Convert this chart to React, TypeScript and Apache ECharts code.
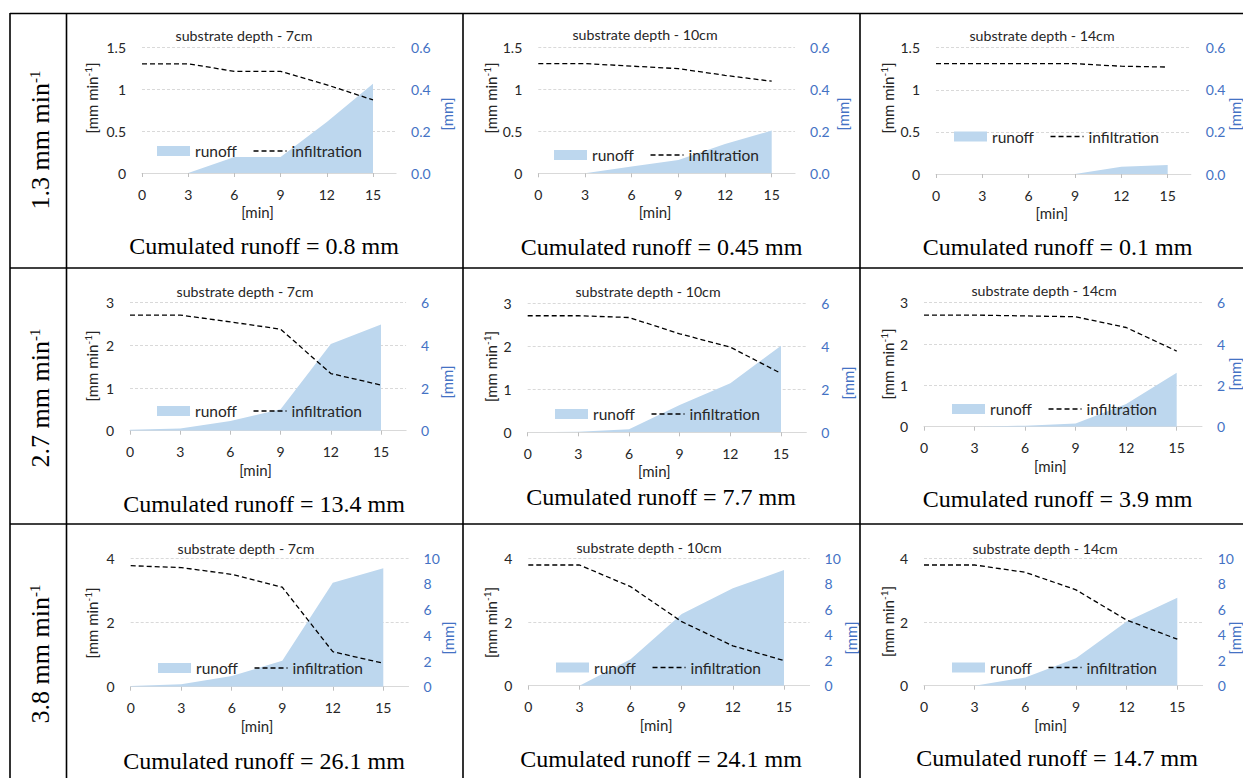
import React, { useEffect, useRef } from 'react';
import * as echarts from 'echarts';

// ---------------- data ----------------
const minutes = [0, 3, 6, 9, 12, 15];
const rainIntensityLabels = ['1.3', '2.7', '3.8'];
const substrateDepthLabels = ['7cm', '10cm', '14cm'];

// infiltration [mm min-1] (left axis), runoff [mm] (right axis)
const infiltration13mm7cm = [1.30, 1.30, 1.21, 1.21, 1.05, 0.87];
const runoff13mm7cm = [0, 0, 0.076, 0.076, 0.243, 0.425];
const infiltration13mm10cm = [1.31, 1.31, 1.28, 1.25, 1.17, 1.10];
const runoff13mm10cm = [0, 0, 0.032, 0.064, 0.14, 0.204];
const infiltration13mm14cm = [1.31, 1.31, 1.31, 1.31, 1.28, 1.27];
const runoff13mm14cm = [0, 0, 0, 0, 0.035, 0.043];

const infiltration27mm7cm = [2.71, 2.71, 2.55, 2.38, 1.34, 1.07];
const runoff27mm7cm = [0.05, 0.1, 0.45, 1.0, 4.06, 4.98];
const infiltration27mm10cm = [2.71, 2.71, 2.67, 2.29, 1.98, 1.37];
const runoff27mm10cm = [0, 0.02, 0.14, 1.27, 2.28, 4.03];
const infiltration27mm14cm = [2.70, 2.70, 2.68, 2.66, 2.40, 1.83];
const runoff27mm14cm = [0, 0, 0.05, 0.16, 1.1, 2.61];

const infiltration38mm7cm = [3.77, 3.71, 3.50, 3.10, 1.09, 0.73];
const runoff38mm7cm = [0.05, 0.2, 0.83, 2.03, 8.1, 9.22];
const infiltration38mm10cm = [3.79, 3.79, 3.11, 2.01, 1.25, 0.79];
const runoff38mm10cm = [0, 0, 2.07, 5.63, 7.64, 9.08];
const infiltration38mm14cm = [3.79, 3.79, 3.56, 3.01, 2.06, 1.46];
const runoff38mm14cm = [0, 0, 0.65, 2.15, 5.03, 6.91];

const cumulatedRunoff = ['0.8', '0.45', '0.1', '13.4', '7.7', '3.9', '26.1', '24.1', '14.7'];

const leftAxisMax = [1.5, 3, 4];
const leftAxisStep = [0.5, 1, 2];
const rightAxisMax = [0.6, 6, 10];
const rightAxisStep = [0.2, 2, 2];
const rightAxisDecimals = [1, 0, 0];

const infiltrationByPanel = [
  infiltration13mm7cm, infiltration13mm10cm, infiltration13mm14cm,
  infiltration27mm7cm, infiltration27mm10cm, infiltration27mm14cm,
  infiltration38mm7cm, infiltration38mm10cm, infiltration38mm14cm,
];
const runoffByPanel = [
  runoff13mm7cm, runoff13mm10cm, runoff13mm14cm,
  runoff27mm7cm, runoff27mm10cm, runoff27mm14cm,
  runoff38mm7cm, runoff38mm10cm, runoff38mm14cm,
];

// ---------------- layout (pixels) ----------------
const LAYOUT = [
  { x0: 142, x15: 373, top: 47, y0: 173, title: [244, 35], legend: [157, 152], nameL: [92, 98], nameR: [447, 114], caption: [264, 246] },
  { x0: 538.3, x15: 771.7, top: 47.7, y0: 173.3, title: [645, 34], legend: [554, 156], nameL: [491, 98], nameR: [843, 114], caption: [661.5, 247] },
  { x0: 936, x15: 1167.7, top: 47.7, y0: 174, title: [1042, 35], legend: [954, 137.5], nameL: [888, 98], nameR: [1235, 114], caption: [1057.5, 247] },
  { x0: 130, x15: 381, top: 302.7, y0: 430.7, title: [245, 291], legend: [157, 412], nameL: [92, 366], nameR: [447, 382], caption: [264, 504] },
  { x0: 527.7, x15: 781, top: 303.3, y0: 432.3, title: [648, 291], legend: [555, 415], nameL: [491, 366.5], nameR: [848, 383], caption: [661, 497] },
  { x0: 924, x15: 1176.7, top: 302.7, y0: 426.7, title: [1044, 290], legend: [952, 410], nameL: [888, 364], nameR: [1235, 374], caption: [1057.5, 499] },
  { x0: 130.7, x15: 383.3, top: 558.3, y0: 686.7, title: [246, 548], legend: [158, 669], nameL: [92, 623], nameR: [448, 638], caption: [264, 761] },
  { x0: 528.3, x15: 784, top: 558.3, y0: 685.7, title: [649, 547], legend: [556, 668.5], nameL: [491, 622.5], nameR: [851, 638], caption: [661, 759] },
  { x0: 924, x15: 1177.3, top: 558.3, y0: 685.7, title: [1045, 548], legend: [952, 668.5], nameL: [888, 621.5], nameR: [1235, 638], caption: [1057, 758] },
];
const ROW_LABEL_POS = [[40, 140], [40, 398], [40, 654]];
const X_MAX = 16.5;

const SANS = 'Lato, "Open Sans", sans-serif';
const SERIF = '"Liberation Serif", "Times New Roman", serif';
const TEXT_COLOR = '#262626';
const BLUE = '#4472C4';
const AREA = '#BDD7EE';

function buildOption() {
  const grid: any[] = [];
  const xAxis: any[] = [];
  const yAxis: any[] = [];
  const series: any[] = [];
  const legend: any[] = [];
  const graphic: any[] = [];

  // table lines
  const line = (x1: number, y1: number, x2: number, y2: number) => ({
    type: 'line', silent: true, z: 100,
    shape: { x1, y1, x2, y2 },
    style: { stroke: '#000', lineWidth: 1.6 },
  });
  graphic.push(line(10, 13.5, 1243, 13.5));
  graphic.push(line(10, 268, 1243, 268));
  graphic.push(line(10, 524, 1243, 524));
  graphic.push(line(10, 13, 10, 778));
  graphic.push(line(66.5, 13, 66.5, 778));
  graphic.push(line(463, 13, 463, 778));
  graphic.push(line(860, 13, 860, 778));

  // row labels
  rainIntensityLabels.forEach((lab, r) => {
    graphic.push({
      type: 'text', silent: true,
      x: ROW_LABEL_POS[r][0], y: ROW_LABEL_POS[r][1], rotation: Math.PI / 2,
      style: {
        text: `${lab} mm min{sup|-1}`,
        fontFamily: SERIF, fontSize: 26, lineHeight: 26, fill: '#000',
        align: 'center', verticalAlign: 'middle',
        rich: { sup: { fontFamily: SERIF, fontSize: 15, lineHeight: 15, verticalAlign: 'top', fill: '#000' } },
      },
    });
  });

  for (let i = 0; i < 9; i++) {
    const r = Math.floor(i / 3);
    const c = i % 3;
    const L = LAYOUT[i];
    const width = ((L.x15 - L.x0) * X_MAX) / 15;
    grid.push({ left: L.x0, top: L.top, width, height: L.y0 - L.top, containLabel: false });

    xAxis.push({
      gridIndex: i, type: 'value', min: 0, max: X_MAX,
      axisLine: { show: true, onZero: false, lineStyle: { color: '#D9D9D9', width: 1 } },
      axisTick: { show: true, length: 4, customValues: minutes, lineStyle: { color: '#BFBFBF' } },
      axisLabel: { customValues: minutes, margin: 14, fontFamily: SANS, fontSize: 14, color: TEXT_COLOR },
      splitLine: { show: false },
    });
    yAxis.push({
      gridIndex: i, type: 'value', position: 'left', min: 0, max: leftAxisMax[r], interval: leftAxisStep[r],
      axisLine: { show: false }, axisTick: { show: false },
      axisLabel: { margin: 16, fontFamily: SANS, fontSize: 14, color: TEXT_COLOR },
      splitLine: { show: true, lineStyle: { color: '#D9D9D9', width: 1, type: [3, 2] } },
    });
    yAxis.push({
      gridIndex: i, type: 'value', position: 'right', min: 0, max: rightAxisMax[r], interval: rightAxisStep[r],
      axisLine: { show: false }, axisTick: { show: false },
      axisLabel: {
        margin: 15, fontFamily: SANS, fontSize: 14, color: BLUE,
        formatter: (v: number) => v.toFixed(rightAxisDecimals[r]),
      },
      splitLine: { show: false },
    });

    series.push({
      name: 'runoff', type: 'line', xAxisIndex: i, yAxisIndex: 2 * i + 1,
      data: minutes.map((m, k) => [m, runoffByPanel[i][k]]),
      symbol: 'none', color: AREA, silent: true, z: 2,
      lineStyle: { width: 0, color: AREA },
      areaStyle: { color: AREA, opacity: 1 },
    });
    series.push({
      name: 'infiltration', type: 'line', xAxisIndex: i, yAxisIndex: 2 * i,
      data: minutes.map((m, k) => [m, infiltrationByPanel[i][k]]),
      symbol: 'none', color: '#000', silent: true, z: 3,
      lineStyle: { width: 1.3, color: '#000', type: [5, 3] },
    });

    legend.push({
      left: L.legend[0], top: L.legend[1] - 9, padding: 0,
      itemWidth: 33, itemHeight: 10, itemGap: 16, selectedMode: false,
      textStyle: { fontFamily: SANS, fontSize: 15.5, color: TEXT_COLOR },
      lineStyle: { width: 1.3 },
      data: [
        { name: 'runoff', icon: 'rect' },
        { name: 'infiltration', itemStyle: { opacity: 0 } },
      ],
    });

    // title
    graphic.push({
      type: 'text', silent: true, x: L.title[0], y: L.title[1],
      style: {
        text: `substrate depth - ${substrateDepthLabels[c]}`,
        fontFamily: SANS, fontSize: 14.2, fill: TEXT_COLOR, align: 'center', verticalAlign: 'middle',
      },
    });
    // x axis name
    graphic.push({
      type: 'text', silent: true, x: (L.x0 + L.x15) / 2, y: L.y0 + 39,
      style: { text: '[min]', fontFamily: SANS, fontSize: 15, fill: TEXT_COLOR, align: 'center', verticalAlign: 'middle' },
    });
    // left axis name
    graphic.push({
      type: 'text', silent: true, x: L.nameL[0], y: L.nameL[1], rotation: Math.PI / 2,
      style: {
        text: '[mm min{sup|-1}]',
        fontFamily: SANS, fontSize: 15, lineHeight: 18, fill: TEXT_COLOR, align: 'center', verticalAlign: 'middle',
        rich: { sup: { fontFamily: SANS, fontSize: 10, lineHeight: 10, verticalAlign: 'top', fill: TEXT_COLOR } },
      },
    });
    // right axis name
    graphic.push({
      type: 'text', silent: true, x: L.nameR[0], y: L.nameR[1], rotation: Math.PI / 2,
      style: { text: '[mm]', fontFamily: SANS, fontSize: 15, fill: BLUE, align: 'center', verticalAlign: 'middle' },
    });
    // caption
    graphic.push({
      type: 'text', silent: true, x: L.caption[0], y: L.caption[1],
      style: {
        text: `Cumulated runoff = ${cumulatedRunoff[i]} mm`,
        fontFamily: SERIF, fontSize: 24, fill: '#000', align: 'center', verticalAlign: 'middle',
      },
    });
  }

  return {
    animation: false,
    backgroundColor: '#ffffff',
    grid, xAxis, yAxis, series, legend, graphic,
  };
}

export default function App() {
  const ref = useRef<HTMLDivElement>(null);
  useEffect(() => {
    if (!ref.current) return;
    const chart = echarts.init(ref.current, undefined, { renderer: 'svg', width: 1243, height: 778 });
    chart.setOption(buildOption());
    return () => chart.dispose();
  }, []);
  return (
    <div
      ref={ref}
      style={{ position: 'absolute', left: 0, top: 0, width: 1243, height: 778, background: '#fff' }}
    />
  );
}
